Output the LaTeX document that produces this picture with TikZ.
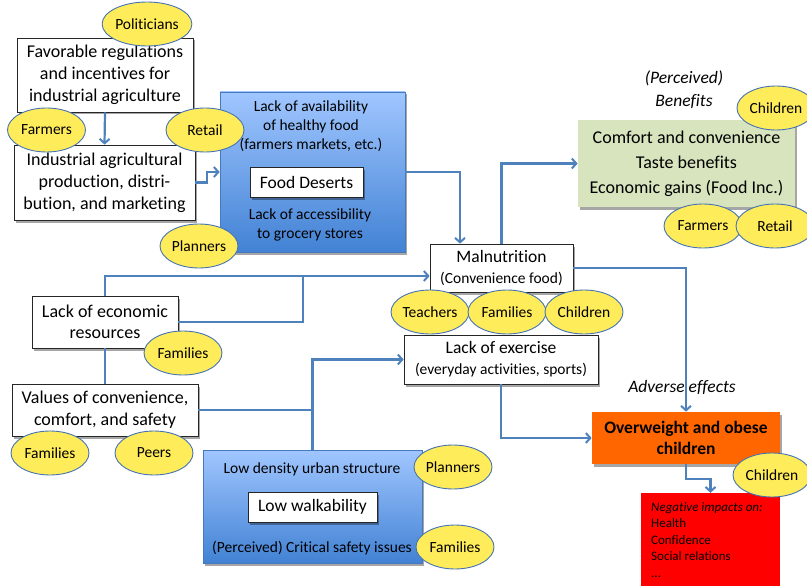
\documentclass[tikz,border=0pt]{standalone}
\usepackage{fontspec}
\setmainfont[Ligatures=NoCommon]{Carlito}
\usetikzlibrary{arrows.meta,shapes.geometric,shadows}
\definecolor{connc}{RGB}{79,129,189}
\definecolor{ellborder}{RGB}{70,115,180}
\definecolor{yel}{RGB}{255,236,90}
\definecolor{bluetop}{RGB}{160,198,255}
\definecolor{bluebot}{RGB}{66,130,212}
\definecolor{blueborder}{RGB}{70,120,190}
\definecolor{greenbox}{RGB}{215,228,189}
\definecolor{orangebox}{RGB}{255,102,0}
\definecolor{redbox}{RGB}{255,0,0}
\begin{document}
\begin{tikzpicture}[x=1pt,y=-1pt,
  shad/.style={drop shadow={shadow xshift=2pt,shadow yshift=-2.5pt,opacity=0.35,fill=black}},
  box/.style={draw=black!85,line width=0.7pt,fill=white,align=center,inner sep=0pt,shad},
  bluebox/.style={draw=blueborder,line width=0.6pt,top color=bluetop,bottom color=bluebot,inner sep=0pt,shad},
  ell/.style={ellipse,draw=ellborder,line width=0.9pt,fill=yel,minimum width=78pt,minimum height=44pt,inner sep=0pt,font=\fontsize{15.5}{18}\selectfont},
  conn/.style={draw=connc,line width=2.2pt},
  arr/.style={conn,-{Straight Barb[length=4.5pt,width=10pt,line width=2pt]}},
  txt/.style={align=center,inner sep=0pt}
]
\useasboundingbox (0,0) rectangle (807,586);

% big blue boxes
\node[bluebox,minimum width=185pt,minimum height=160pt] (food) at (312.5,172) {};
\node[txt,font=\fontsize{15.5}{19}\selectfont] (foodt1) at (311,126) {Lack of availability\\of healthy food\\(farmers markets, etc.)};
\node[box,minimum width=113pt,minimum height=30pt,font=\fontsize{17.5}{21}\selectfont] (fd) at (306.5,182) {Food Deserts};
\node[txt,font=\fontsize{15.5}{19}\selectfont] (foodt2) at (310,224.5) {Lack of accessibility\\to grocery stores};

\node[bluebox,minimum width=219pt,minimum height=113pt] (low) at (312.5,506.5) {};
\node[txt,font=\fontsize{15.5}{19}\selectfont] (lowt1) at (312,469) {Low density urban structure};
\node[box,minimum width=129pt,minimum height=30pt,font=\fontsize{17.5}{21}\selectfont] (lw) at (312.5,507) {Low walkability};
\node[txt,font=\fontsize{15.5}{19}\selectfont] (lowt2) at (312,548) {(Perceived) Critical safety issues};

% white boxes
\node[box,minimum width=176pt,minimum height=74pt,font=\fontsize{18}{22}\selectfont] (fav) at (105,75) {Favorable regulations\\and incentives for\\industrial agriculture};
\node[box,minimum width=181pt,minimum height=75pt,font=\fontsize{18}{22}\selectfont] (ind) at (104.5,182.5) {Industrial agricultural\\production, distri-\\bution, and marketing};
\node[box,minimum width=143pt,minimum height=48pt,font=\fontsize{17.5}{21}\selectfont] (mal) at (501.5,268) {Malnutrition\\{\fontsize{15.5}{19}\selectfont (Convenience food)}};
\node[box,draw=none,fill=greenbox,minimum width=217pt,minimum height=87pt,font=\fontsize{18}{25}\selectfont] (ben) at (686.5,163.5) {Comfort and convenience\\Taste benefits\\Economic gains (Food Inc.)};
\node[box,minimum width=146pt,minimum height=52pt,font=\fontsize{18}{21.5}\selectfont] (econ) at (105,322) {Lack of economic\\resources};
\node[box,minimum width=186pt,minimum height=52pt,font=\fontsize{18}{22}\selectfont] (val) at (105,410) {Values of convenience,\\comfort, and safety};
\node[box,minimum width=194pt,minimum height=49pt,font=\fontsize{17.5}{21}\selectfont] (ex) at (501,359.5) {Lack of exercise\\{\fontsize{15.5}{19}\selectfont (everyday activities, sports)}};
\node[box,draw=none,fill=orangebox,minimum width=188pt,minimum height=52pt,font=\fontsize{17.5}{21}\selectfont\bfseries] (ow) at (686,438) {Overweight and obese\\children};
\node[fill=redbox,minimum width=139pt,minimum height=97pt,inner sep=0pt] (red) at (710.5,541.5) {};
\node[anchor=north west,align=left,inner sep=0pt,font=\fontsize{13}{16.5}\selectfont] (redt) at (651,502) {\textit{Negative impacts on:}\\Health\\Confidence\\Social relations\\...};

% free labels
\node[txt,font=\fontsize{17.5}{23}\selectfont\itshape] (perc) at (684,89.5) {(Perceived)\\Benefits};
\node[txt,font=\fontsize{17.5}{21}\selectfont\itshape] (adv) at (682,387) {Adverse effects};

% connectors
\draw[arr] (fav.south) -- (ind.north);
\draw[arr] (ind.east) -- ++(12,0) |- (food.west);
\draw[arr] (food.east) -| (460,0 |- mal.north);
\draw[arr] (mal.north) |- (ben.west);
\draw[arr] (mal.east) -| (ow.north);
\draw[conn] (val.north) -- (econ.south);
\coordinate (j1) at (303,276);
\draw[arr] (econ.north) |- ([yshift=-8pt]mal.west);
\draw[conn] (econ.east) -| (j1);
\draw[conn] (val.east) -- (val.east -| low.north);
\draw[arr] (low.north) |- (ex.west);
\draw[arr] (ex.south) |- (ow.west);
\draw[arr] (ow.south) -- ++(0,15) -| (red.north);

% ellipses
\node[ell] (pol) at (147,24) {Politicians};
\node[ell] (farm1) at (46.5,130) {Farmers};
\node[ell] (ret1) at (205,130) {Retail};
\node[ell] (plan1) at (199,246) {Planners};
\node[ell] (chil1) at (776,108) {Children};
\node[ell] (farm2) at (703,226) {Farmers};
\node[ell] (ret2) at (775,226) {Retail};
\node[ell] (fam1) at (183,353) {Families};
\node[ell] (fam2) at (50,453) {Families};
\node[ell] (peers) at (154,453) {Peers};
\node[ell] (teach) at (430,312) {Teachers};
\node[ell] (fam3) at (507,312) {Families};
\node[ell] (chil2) at (584,312) {Children};
\node[ell] (plan2) at (453,467) {Planners};
\node[ell] (fam4) at (455,547) {Families};
\node[ell] (chil3) at (772,475) {Children};
\end{tikzpicture}
\end{document}
